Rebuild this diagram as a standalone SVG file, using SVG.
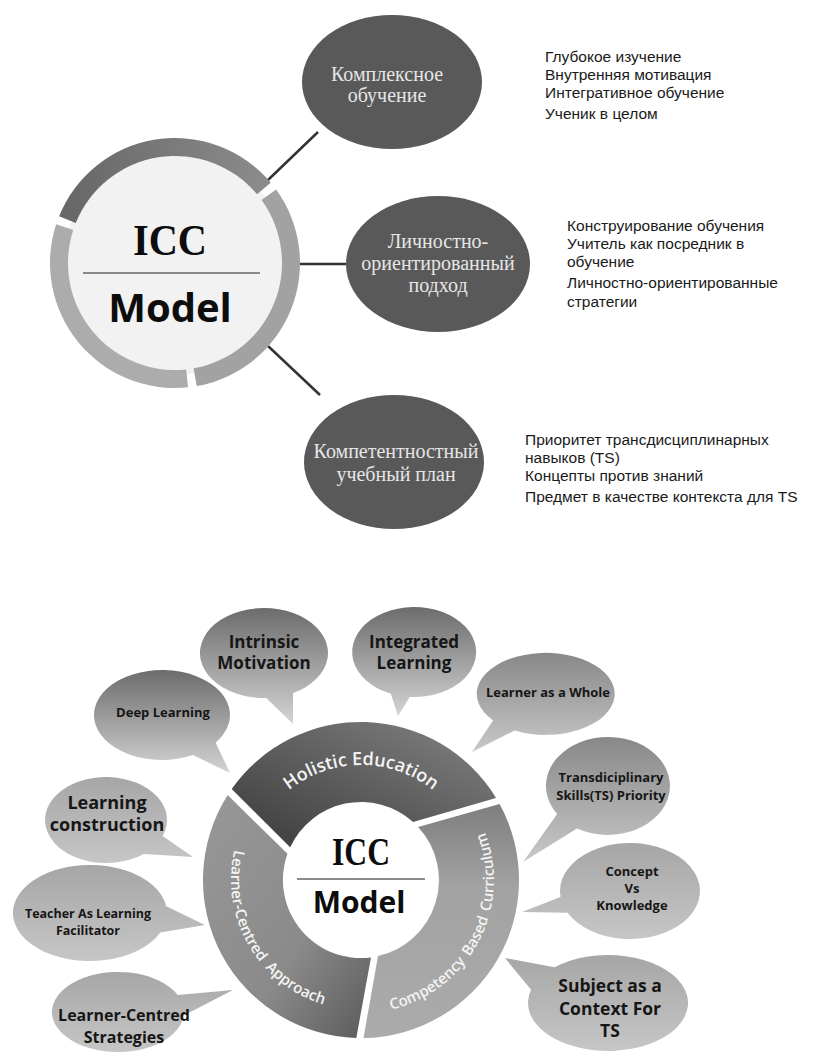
<svg xmlns="http://www.w3.org/2000/svg" xmlns:xlink="http://www.w3.org/1999/xlink" width="821" height="1053" viewBox="0 0 821 1053">
<defs>
<style>
.ell{fill:#595959}
.elt{font-family:"Liberation Serif","Times New Roman",serif;font-size:20px;fill:#e6e6e6;text-anchor:middle}
.bul{font-family:"Liberation Sans",Arial,sans-serif;font-size:15.5px;fill:#1a1a1a}
.con{stroke:#333;stroke-width:2.5;fill:none}
.bt{font-family:"Open Sans","Noto Sans",sans-serif;font-weight:700;fill:#161616;text-anchor:middle}
.arc{font-family:"Open Sans","Noto Sans",sans-serif;font-weight:600;fill:#f4f4f4;text-anchor:middle}
.icc{font-family:"Liberation Serif","Times New Roman",serif;font-weight:700;fill:#0d0d0d;text-anchor:middle}
.mdl{font-family:"Open Sans","Noto Sans",sans-serif;font-weight:700;fill:#0d0d0d;text-anchor:middle}
</style>
<linearGradient id="gDark" x1="0" y1="0" x2="0" y2="1"><stop offset="0" stop-color="#6c6c6c"/><stop offset="1" stop-color="#d4d4d4"/></linearGradient>
<linearGradient id="gMid" x1="0" y1="0" x2="0" y2="1"><stop offset="0" stop-color="#888"/><stop offset="1" stop-color="#c8c8c8"/></linearGradient>
<linearGradient id="gLight" x1="0" y1="0" x2="0" y2="1"><stop offset="0" stop-color="#a6a6a6"/><stop offset="1" stop-color="#c6c6c6"/></linearGradient>
<linearGradient id="gHol" x1="0" y1="1" x2="1" y2="0"><stop offset="0" stop-color="#3a3a3a"/><stop offset="1" stop-color="#838383"/></linearGradient>
<linearGradient id="gLea" x1="0" y1="0" x2="1" y2="1"><stop offset="0" stop-color="#989898"/><stop offset="0.6" stop-color="#8a8a8a"/><stop offset="1" stop-color="#5a5a5a"/></linearGradient>
<linearGradient id="gCom" x1="0" y1="0" x2="0" y2="1"><stop offset="0" stop-color="#7e7e7e"/><stop offset="0.35" stop-color="#a2a2a2"/><stop offset="1" stop-color="#ababab"/></linearGradient>
<linearGradient id="gTop" x1="0" y1="0" x2="1" y2="0"><stop offset="0" stop-color="#666"/><stop offset="1" stop-color="#8c8c8c"/></linearGradient>
<path id="pHol" d="M252.9,840.7 A115,115 0 0 1 469.1,840.7"/>
<path id="pLea" d="M254.5,805.4 A130,130 0 0 0 372.3,1009.5"/>
<path id="pCom" d="M354,1012.8 A133,133 0 0 0 467.2,800"/>
</defs>
<rect width="821" height="1053" fill="#fff"/>

<g id="connectors">
<line class="con" x1="268" y1="180" x2="318" y2="132"/>
<line class="con" x1="300" y1="264" x2="347" y2="264"/>
<line class="con" x1="268" y1="346" x2="320" y2="395"/>
</g>

<g id="icc-top">
<circle cx="175" cy="263" r="112" fill="#f2f2f2"/>
<path d="M59.1,216.2 A125,125 0 0 1 270.75,182.65 L256.96,194.22 A107,107 0 0 0 75.79,222.92 Z" fill="url(#gTop)"/>
<path d="M276.1,189.5 A125,125 0 0 1 196.7,386.1 L193.58,368.37 A107,107 0 0 0 261.56,200.11 Z" fill="#a2a2a2"/>
<path d="M188.06,387.31 A125,125 0 0 1 56.11,224.37 L73.23,229.94 A107,107 0 0 0 186.18,369.41 Z" fill="#acacac"/>
<text class="icc" x="170" y="255" font-size="45" textLength="74" lengthAdjust="spacingAndGlyphs">ICC</text>
<line x1="83" y1="273" x2="260" y2="273" stroke="#666" stroke-width="1.5"/>
<text class="mdl" x="170" y="322" font-size="40">Model</text>
</g>

<g id="node-holistic-ru">
<ellipse class="ell" cx="392" cy="82" rx="90" ry="67"/>
<text class="elt" x="387" y="81">Комплексное</text>
<text class="elt" x="387" y="102">обучение</text>
</g>
<g id="node-learner-ru">
<ellipse class="ell" cx="438" cy="264" rx="92" ry="68"/>
<text class="elt" x="438" y="248">Личностно-</text>
<text class="elt" x="438" y="270">ориентированный</text>
<text class="elt" x="438" y="292">подход</text>
</g>
<g id="node-competency-ru">
<ellipse class="ell" cx="394" cy="462" rx="90" ry="67"/>
<text class="elt" x="396" y="458">Компетентностный</text>
<text class="elt" x="396" y="481">учебный план</text>
</g>

<g id="list-1">
<text class="bul" x="545" y="62">Глубокое изучение</text>
<text class="bul" x="545" y="80">Внутренняя мотивация</text>
<text class="bul" x="545" y="98">Интегративное обучение</text>
<text class="bul" x="545" y="119">Ученик в целом</text>
</g>
<g id="list-2">
<text class="bul" x="567" y="231">Конструирование обучения</text>
<text class="bul" x="567" y="249">Учитель как посредник в</text>
<text class="bul" x="567" y="267">обучение</text>
<text class="bul" x="567" y="288">Личностно-ориентированные</text>
<text class="bul" x="567" y="307">стратегии</text>
</g>
<g id="list-3">
<text class="bul" x="525" y="445">Приоритет трансдисциплинарных</text>
<text class="bul" x="525" y="463">навыков (TS)</text>
<text class="bul" x="525" y="481">Концепты против знаний</text>
<text class="bul" x="525" y="502">Предмет в качестве контекста для TS</text>
</g>

<g id="icc-ring">
<path d="M231.7,789.1 A158,158 0 0 1 496,797.9 L413.1,821.9 A78,78 0 0 0 290.2,847.3 Z" fill="url(#gHol)"/>
<path d="M499.6,804.1 A158,158 0 0 1 363.5,1038 L378,956.1 A78,78 0 0 0 418.1,826.9 Z" fill="url(#gCom)"/>
<path d="M356.3,1037.9 A158,158 0 0 1 227.7,795.1 L287.5,853.8 A78,78 0 0 0 371,957.4 Z" fill="url(#gLea)"/>
<text class="arc" font-size="18"><textPath xlink:href="#pHol" href="#pHol" startOffset="50%">Holistic Education</textPath></text>
<text class="arc" font-size="15"><textPath xlink:href="#pLea" href="#pLea" startOffset="108.5">Learner-Centred</textPath></text>
<text class="arc" font-size="15"><textPath xlink:href="#pLea" href="#pLea" startOffset="210.5">Approach</textPath></text>
<text class="arc" font-size="15"><textPath xlink:href="#pCom" href="#pCom" startOffset="82.5">Competency</textPath></text>
<text class="arc" font-size="15"><textPath xlink:href="#pCom" href="#pCom" startOffset="155.4">Based</textPath></text>
<text class="arc" font-size="15"><textPath xlink:href="#pCom" href="#pCom" startOffset="224">Curriculum</textPath></text>
<text class="icc" x="361" y="865" font-size="40" textLength="58" lengthAdjust="spacingAndGlyphs">ICC</text>
<line x1="297" y1="879" x2="425" y2="879" stroke="#666" stroke-width="1.5"/>
<text class="mdl" x="359" y="913" font-size="30">Model</text>
</g>

<g id="bubble-intrinsic">
<path d="M266.2,698 A64,45 0 1 1 293.1,693.1 L293,724 Z" fill="url(#gDark)"/>
<text class="bt" x="264" y="648" font-size="17">Intrinsic</text>
<text class="bt" x="264" y="669" font-size="17">Motivation</text>
</g>
<g id="bubble-integrated">
<path d="M390.8,693.7 A62,45 0 1 1 409.7,696.9 L398,716 Z" fill="url(#gDark)"/>
<text class="bt" x="414" y="648" font-size="17">Integrated</text>
<text class="bt" x="414" y="669" font-size="17">Learning</text>
</g>
<g id="bubble-deep">
<path d="M192.9,755.1 A68,45 0 1 1 215.6,742.7 L230,773 Z" fill="url(#gDark)"/>
<text class="bt" x="163" y="717" font-size="13">Deep Learning</text>
</g>
<g id="bubble-whole">
<path d="M493.1,720.4 A69,41 0 1 1 514.7,730.5 L472,752 Z" fill="url(#gMid)"/>
<text class="bt" x="548" y="697" font-size="13">Learner as a Whole</text>
</g>
<g id="bubble-ts">
<path d="M557.2,814.1 A62,49 0 1 1 577,828.4 L523,862 Z" fill="url(#gMid)"/>
<text class="bt" x="611" y="782" font-size="13">Transdiciplinary</text>
<text class="bt" x="611" y="800" font-size="13">Skills(TS) Priority</text>
</g>
<g id="bubble-concept">
<path d="M560.5,896.9 A70,48 0 1 1 567.6,912.8 L522,912 Z" fill="url(#gLight)"/>
<text class="bt" x="632" y="876" font-size="13">Concept</text>
<text class="bt" x="632" y="893" font-size="13">Vs</text>
<text class="bt" x="632" y="910" font-size="13">Knowledge</text>
</g>
<g id="bubble-subject">
<path d="M554.5,967.3 A80,48 0 1 1 531.1,989.8 L505,958 Z" fill="url(#gLight)"/>
<text class="bt" x="610" y="992" font-size="17.5">Subject as a</text>
<text class="bt" x="610" y="1014.5" font-size="17.5">Context For</text>
<text class="bt" x="610" y="1037" font-size="17.5">TS</text>
</g>
<g id="bubble-construction">
<path d="M143.6,853.9 A61,43 0 1 1 162.6,836.1 L193,857 Z" fill="url(#gLight)"/>
<text class="bt" x="107" y="809" font-size="18">Learning</text>
<text class="bt" x="107" y="831" font-size="18">construction</text>
</g>
<g id="bubble-teacher">
<path d="M160.3,932.5 A77,48 0 1 1 166.2,906.3 L205,925 Z" fill="url(#gLight)"/>
<text class="bt" x="88" y="918" font-size="12.5">Teacher As Learning</text>
<text class="bt" x="88" y="935" font-size="12.5">Facilitator</text>
</g>
<g id="bubble-strategies">
<path d="M183.7,1015.5 A66,40 0 1 1 177.8,995.1 L233,990 Z" fill="url(#gLight)"/>
<text class="bt" x="124" y="1021" font-size="16">Learner-Centred</text>
<text class="bt" x="124" y="1043" font-size="16">Strategies</text>
</g>
</svg>
